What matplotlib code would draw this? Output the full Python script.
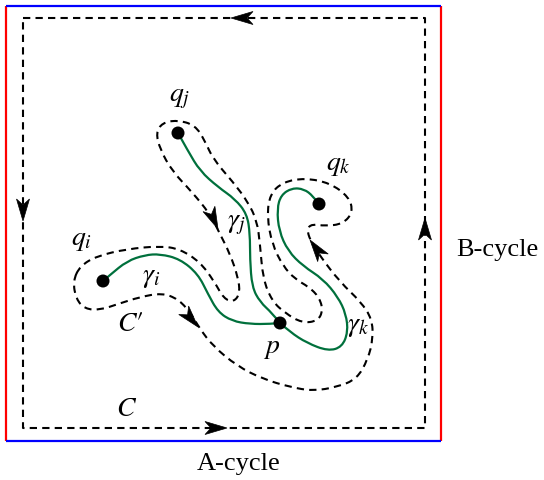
import matplotlib
matplotlib.use("Agg")
import matplotlib.pyplot as plt
from matplotlib.path import Path
from matplotlib.patches import PathPatch, Polygon, Circle
import numpy as np

plt.rcParams['mathtext.fontset'] = 'stix'
plt.rcParams['font.family'] = ['Liberation Serif', 'DejaVu Serif']

# all coordinates are picture pixels (x right, y down)
square_x = [6, 441]
square_y = [7, 442]

# outer dashed contour C
c_x = [23, 425, 425, 23, 23]
c_y = [19, 19, 429, 429, 19]

# dashed contour C' (closed, in travel order)
cp_x = [73, 76, 85, 100, 118, 140, 162, 178, 190, 200, 213, 237, 263, 290, 313,
        337, 357, 368, 373, 372, 361, 340, 320, 310, 307, 312, 325, 343, 353, 349,
        330, 305, 283, 270, 267, 272, 283, 295, 309, 319, 323, 318, 302, 285, 272,
        263, 260, 257, 248, 233, 213, 205, 195, 177, 162, 156, 160, 172, 192, 210,
        220, 230, 238, 240, 234, 224, 214, 200, 180, 160, 127, 97, 80]
cp_y = [282, 300, 310, 311, 305, 298, 294, 300, 313, 330, 347, 367, 380, 388, 392,
        388, 380, 360, 340, 320, 303, 283, 257, 241, 230, 225, 227, 225, 213, 198,
        184, 179, 183, 195, 217, 245, 267, 280, 288, 298, 311, 322, 324, 314, 302,
        280, 245, 222, 203, 183, 160, 142, 126, 121, 124, 134, 150, 172, 193, 215,
        235, 255, 278, 294, 303, 300, 282, 263, 250, 247, 250, 257, 267]

# green cuts gamma_i, gamma_j, gamma_k
gi_x = [103, 110, 127, 145, 160, 180, 198, 208, 218, 232, 250, 270, 280]
gi_y = [282, 276, 262, 256, 255, 260, 275, 295, 313, 322, 325, 325, 324]
gj_x = [178, 188, 200, 218, 235, 247, 250, 250, 252, 260, 272, 280]
gj_y = [134, 152, 172, 188, 200, 215, 235, 260, 288, 303, 314, 324]
gk_x = [280, 290, 307, 328, 342, 348, 346, 338, 323, 303, 288, 279, 277, 281, 292, 304, 313, 319]
gk_y = [324, 333, 344, 352, 348, 333, 315, 298, 280, 267, 252, 232, 210, 196, 189, 190, 197, 205]

# points q_i, q_j, q_k, p
pt_x = [103, 178, 319, 280]
pt_y = [282, 134, 205, 324]

# arrow heads: tip and direction
arr_x = [231, 23, 227, 425, 218, 198, 310]
arr_y = [19, 222, 429, 219, 230, 328, 241]
arr_dx = [-1, 0, 1, 0, 0.45, 0.65, -0.59]
arr_dy = [0, 1, 0, -1, 1, 0.76, -0.81]

# labels
lab_text = [r'$q_j$', r'$q_i$', r'$q_k$', r'$\gamma_i$', r'$\gamma_j$', r'$\gamma_k$',
            r'$p$', r'$C\prime$', r'$C$']
lab_x = [180, 82, 338, 151, 236, 358, 272, 130, 127]
lab_y = [99, 241, 166, 278, 225, 327, 349, 325, 410]

green = '#00703c'
dash = (0, (3.5, 2.5))


def smooth(xs, ys, closed=False):
    p = np.column_stack([xs, ys]).astype(float)
    n = len(p)
    if closed:
        mids = (p + np.roll(p, -1, axis=0)) / 2
        verts = [mids[-1]]
        codes = [Path.MOVETO]
        for i in range(n):
            verts += [p[i], mids[i]]
            codes += [Path.CURVE3, Path.CURVE3]
        verts.append(mids[-1])
        codes.append(Path.CLOSEPOLY)
        return Path(verts, codes)
    verts = [p[0]]
    codes = [Path.MOVETO]
    for i in range(1, n - 2):
        verts += [p[i], (p[i] + p[i + 1]) / 2]
        codes += [Path.CURVE3, Path.CURVE3]
    verts += [p[n - 2], p[n - 1]]
    codes += [Path.CURVE3, Path.CURVE3]
    return Path(verts, codes)


def stealth(ax, x, y, dx, dy, length=22, half=6.5, notch=6):
    d = np.array([dx, dy], float)
    d /= np.hypot(*d)
    nrm = np.array([-d[1], d[0]])
    tip = np.array([x, y], float)
    back = tip - d * length
    poly = [tip, back + nrm * half, back + d * notch, back - nrm * half]
    ax.add_patch(Polygon(poly, closed=True, fc='black', ec='black', lw=0.5, zorder=5))


fig = plt.figure(figsize=(5.44, 4.81), dpi=100)
ax = fig.add_axes([0, 0, 1, 1])
ax.set_xlim(0, 544)
ax.set_ylim(481, 0)
ax.axis('off')

# square: red vertical sides, blue horizontal sides
for sx in square_x:
    ax.plot([sx, sx], square_y, color='red', lw=1.6, solid_capstyle='butt')
for sy in square_y:
    ax.plot(square_x, [sy, sy], color='blue', lw=1.6, solid_capstyle='butt')

ax.plot(c_x, c_y, color='black', lw=1.5, linestyle=dash, solid_joinstyle='round')

ax.add_patch(PathPatch(smooth(cp_x, cp_y, closed=True), fill=False, ec='black',
                       lw=1.5, linestyle=dash))

for gx, gy in [(gi_x, gi_y), (gj_x, gj_y), (gk_x, gk_y)]:
    ax.add_patch(PathPatch(smooth(gx, gy), fill=False, ec=green, lw=1.6))

for px, py in zip(pt_x, pt_y):
    ax.add_patch(Circle((px, py), 6.5, fc='black', ec='none', zorder=6))

for a in zip(arr_x, arr_y, arr_dx, arr_dy):
    stealth(ax, *a)

for t, x, y in zip(lab_text, lab_x, lab_y):
    ax.text(x, y, t, fontsize=20, ha='center', va='center')

ax.text(239, 464, 'A-cycle', fontsize=19, ha='center', va='center')
ax.text(497, 250, 'B-cycle', fontsize=19, ha='center', va='center')

fig.savefig('out.png', dpi=100)
